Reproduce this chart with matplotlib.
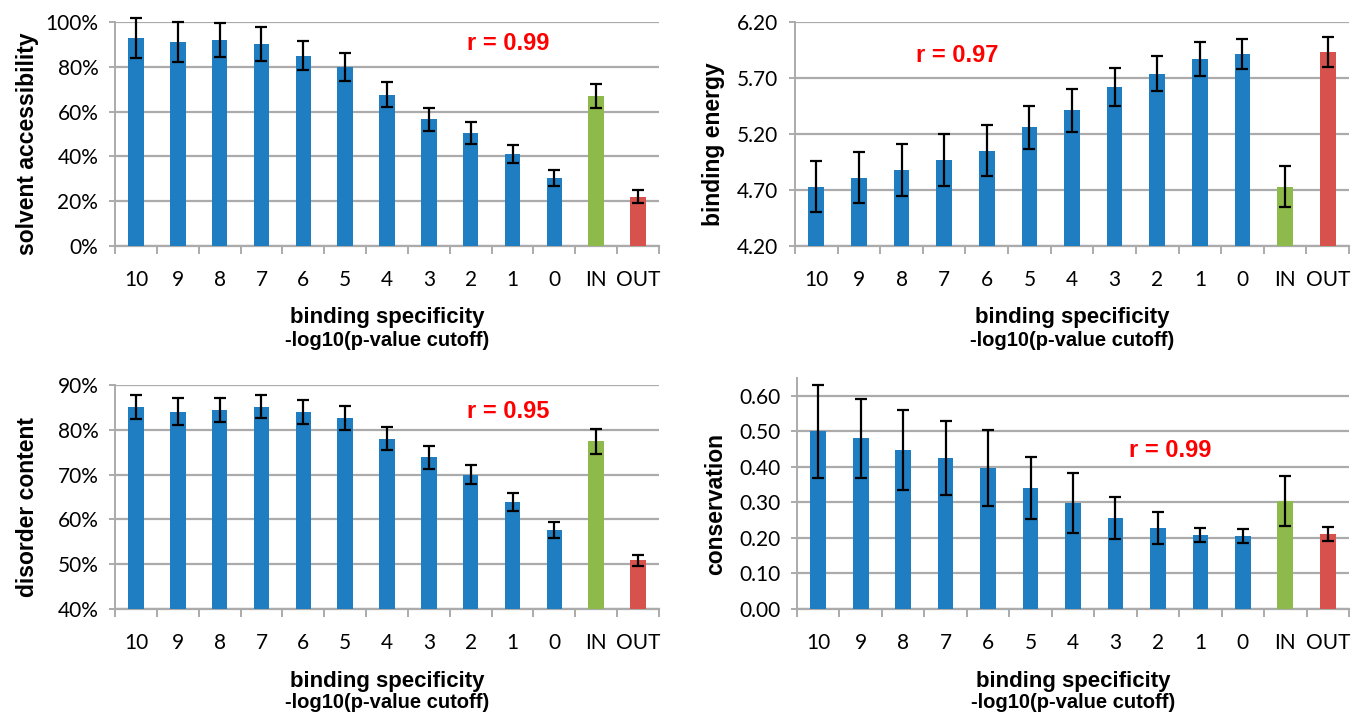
import numpy as np
import matplotlib
matplotlib.use("Agg")
import matplotlib.pyplot as plt
from matplotlib.ticker import FixedLocator

# data
cats = ["10", "9", "8", "7", "6", "5", "4", "3", "2", "1", "0", "IN", "OUT"]

solv = [93, 91, 92, 90, 85, 80, 67.5, 56.5, 50.5, 41, 30.5, 67, 22]
solv_err = [9, 9, 7.7, 7.6, 6.3, 6.2, 5.6, 5.3, 4.8, 3.9, 3.6, 5.2, 3.0]

energy = [4.73, 4.81, 4.88, 4.97, 5.05, 5.26, 5.41, 5.62, 5.74, 5.87, 5.915, 4.73, 5.93]
energy_err = [0.23, 0.23, 0.233, 0.233, 0.226, 0.19, 0.195, 0.17, 0.153, 0.15, 0.137, 0.18, 0.135]

disorder = [85.0, 84.0, 84.4, 85.2, 84.0, 82.6, 78.0, 73.9, 70.0, 63.9, 57.6, 77.4, 50.9]
disorder_err = [2.7, 3.0, 2.65, 2.55, 2.7, 2.7, 2.6, 2.55, 2.2, 2.0, 1.8, 2.8, 1.2]

cons = [0.50, 0.48, 0.448, 0.426, 0.398, 0.341, 0.299, 0.256, 0.227, 0.208, 0.206, 0.303, 0.21]
cons_err = [0.13, 0.11, 0.112, 0.104, 0.107, 0.087, 0.084, 0.06, 0.045, 0.02, 0.019, 0.07, 0.02]

r_text = ["r = 0.99", "r = 0.97", "r = 0.95", "r = 0.99"]
xlab1 = "binding specificity"
xlab2 = "-log10(p-value cutoff)"

blue = "#1F7DC1"
green = "#8DBA4B"
red = "#D7524C"
grid_c = "#ABABAB"
colors = [blue] * 11 + [green, red]

tick_font = ["Lato", "DejaVu Sans"]
bold_font = ["Liberation Sans", "DejaVu Sans"]

fig = plt.figure(figsize=(13.61, 7.17), dpi=100)

W, H = 1361.0, 717.0
def box(x0, x1, ytop, ybot):
    return [x0 / W, 1 - ybot / H, (x1 - x0) / W, (ybot - ytop) / H]

panels = [
    dict(rect=box(115, 659, 22, 246), vals=solv, err=solv_err, ylim=(0, 100),
         yt=np.arange(0, 101, 20), fmt=lambda v: "%d%%" % v, ylab="solvent accessibility",
         lx=-0.14, rxy=(8.9, 90.6)),
    dict(rect=box(795, 1349, 22, 246), vals=energy, err=energy_err, ylim=(4.2, 6.2),
         yt=[4.2, 4.7, 5.2, 5.7, 6.2], fmt=lambda v: "%.2f" % v, ylab="binding energy",
         lx=-0.126, rxy=(3.3, 5.905)),
    dict(rect=box(115, 659, 385, 609), vals=disorder, err=disorder_err, ylim=(40, 90),
         yt=np.arange(40, 91, 10), fmt=lambda v: "%d%%" % v, ylab="disorder content",
         lx=-0.14, rxy=(8.9, 84.0)),
    dict(rect=box(797, 1349, 378, 609), vals=cons, err=cons_err, ylim=(0, 0.65),
         yt=np.arange(0, 0.61, 0.1), fmt=lambda v: "%.2f" % v, ylab="conservation",
         lx=-0.126, rxy=(8.3, 0.445)),
]

x = np.arange(len(cats))
for i, p in enumerate(panels):
    ax = fig.add_axes(p["rect"])
    ax.bar(x, p["vals"], width=0.37, color=colors, zorder=3)
    ax.errorbar(x, p["vals"], yerr=p["err"], fmt="none", ecolor="black",
                elinewidth=1.6, capsize=4, capthick=1.6, zorder=4, clip_on=False)
    ax.set_xlim(-0.5, len(cats) - 0.5)
    ax.set_ylim(*p["ylim"])
    ax.set_yticks(p["yt"])
    ax.set_yticklabels([p["fmt"](v) for v in p["yt"]], family=tick_font, fontsize=15)
    ax.yaxis.grid(True, color=grid_c, linewidth=1.6, zorder=0)
    ax.set_axisbelow(True)
    for s in ["top", "right"]:
        ax.spines[s].set_visible(False)
    ax.spines["left"].set_color(grid_c)
    ax.spines["bottom"].set_color(grid_c)
    ax.spines["left"].set_linewidth(1.4)
    ax.spines["bottom"].set_linewidth(1.6)
    ax.tick_params(axis="y", length=4, width=1.4, color=grid_c, pad=8)
    ax.set_xticks(x)
    ax.set_xticklabels(cats, family=tick_font, fontsize=15)
    ax.tick_params(axis="x", which="major", length=0, pad=17)
    ax.xaxis.set_minor_locator(FixedLocator(np.arange(-0.5, len(cats), 1.0)))
    ax.tick_params(axis="x", which="minor", length=6, width=1.4, color=grid_c, direction="out")
    # two-line x label, second line a bit smaller
    ax.annotate(xlab1, xy=(0.5, 0), xycoords="axes fraction", xytext=(0, -72),
                textcoords="offset pixels", ha="center", va="center",
                family=bold_font, fontweight="bold", fontsize=16)
    ax.annotate(xlab2, xy=(0.5, 0), xycoords="axes fraction", xytext=(0, -94),
                textcoords="offset pixels", ha="center", va="center",
                family=bold_font, fontweight="bold", fontsize=14.5)
    ax.set_ylabel(p["ylab"], family=bold_font, fontweight="bold", fontsize=16.5)
    ax.yaxis.set_label_coords(p["lx"], 0.455)
    ax.text(p["rxy"][0], p["rxy"][1], r_text[i], color="red", fontweight="bold",
            family=bold_font, fontsize=17, ha="center", va="center")

fig.savefig("out.png", dpi=100)
